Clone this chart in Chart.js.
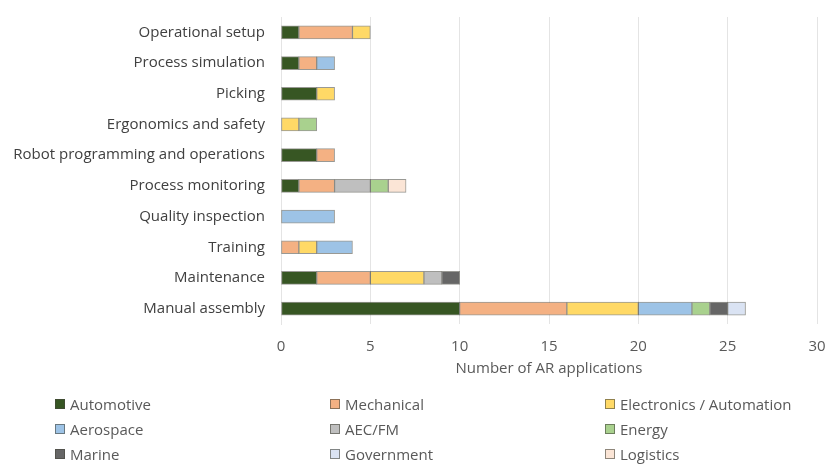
<!DOCTYPE html>
<html>
<head>
<meta charset="utf-8">
<script src="https://cdn.jsdelivr.net/npm/chart.js@4"></script>
<style>
  html, body { margin: 0; padding: 0; background: #fff; }
  #wrap { position: relative; width: 827px; height: 467px; }
  #legend { position: absolute; left: 0; top: 0; width: 827px; height: 467px; pointer-events: none;
            font-family: "Open Sans", sans-serif; font-size: 15px; color: #595959; }
  .item { position: absolute; display: flex; align-items: center; white-space: nowrap; }
  .box { width: 8px; height: 8px; border: 1px solid rgba(70,70,60,0.6); margin-right: 5px; }
</style>
</head>
<body>
<div id="wrap">
  <canvas id="chart" width="827" height="467"></canvas>
  <div id="legend"></div>
</div>
<script>
// categories, top to bottom
const categories = [
  'Operational setup',
  'Process simulation',
  'Picking',
  'Ergonomics and safety',
  'Robot programming and operations',
  'Process monitoring',
  'Quality inspection',
  'Training',
  'Maintenance',
  'Manual assembly'
];

// AR applications per sector
const automotive  = [1, 1, 2, 0, 2, 1, 0, 0, 2, 10];
const mechanical  = [3, 1, 0, 0, 1, 2, 0, 1, 3, 6];
const electronics = [1, 0, 1, 1, 0, 0, 0, 1, 3, 4];
const aerospace   = [0, 1, 0, 0, 0, 0, 3, 2, 0, 3];
const aecfm       = [0, 0, 0, 0, 0, 2, 0, 0, 1, 0];
const energy      = [0, 0, 0, 1, 0, 1, 0, 0, 0, 1];
const marine      = [0, 0, 0, 0, 0, 0, 0, 0, 1, 1];
const government  = [0, 0, 0, 0, 0, 0, 0, 0, 0, 1];
const logistics   = [0, 0, 0, 0, 0, 1, 0, 0, 0, 0];

const xTicks = [0, 5, 10, 15, 20, 25, 30];

const series = [
  { label: 'Automotive', data: automotive, color: '#375623' },
  { label: 'Mechanical', data: mechanical, color: '#F4B183' },
  { label: 'Electronics / Automation', data: electronics, color: '#FFD966' },
  { label: 'Aerospace', data: aerospace, color: '#9DC3E6' },
  { label: 'AEC/FM', data: aecfm, color: '#BFBFBF' },
  { label: 'Energy', data: energy, color: '#A9D18E' },
  { label: 'Marine', data: marine, color: '#666666' },
  { label: 'Government', data: government, color: '#DAE3F3' },
  { label: 'Logistics', data: logistics, color: '#FBE5D6' }
];

const FONT = '"Open Sans", sans-serif';

new Chart(document.getElementById('chart'), {
  type: 'bar',
  data: {
    labels: categories,
    datasets: series.map(s => ({
      label: s.label,
      data: s.data.map(v => v === 0 ? null : v),
      backgroundColor: s.color,
      borderColor: 'rgba(70,70,60,0.55)',
      borderWidth: 1,
      borderSkipped: false,
      barThickness: 13
    }))
  },
  options: {
    indexAxis: 'y',
    responsive: false,
    animation: false,
    layout: { padding: { top: 17, right: 10, bottom: 87, left: 0 } },
    plugins: { legend: { display: false }, tooltip: { enabled: false } },
    scales: {
      x: {
        stacked: true,
        min: 0,
        max: 30,
        afterBuildTicks: axis => { axis.ticks = xTicks.map(v => ({ value: v })); },
        afterFit: axis => { axis.height = 56; },
        // gap below the plot comes from an invisible tick mark, so the
        // tick padding does not push the plot edges inward
        grid: { color: '#e4e4e4', tickLength: 14, tickColor: 'transparent' },
        border: { display: false },
        ticks: { padding: 0, color: '#595959', font: { family: FONT, size: 15 } },
        title: {
          display: true,
          text: 'Number of AR applications',
          color: '#595959',
          font: { family: FONT, size: 15 },
          padding: { top: 0, bottom: 2 }
        }
      },
      y: {
        stacked: true,
        afterFit: axis => { axis.width = 281; },
        grid: { display: false, tickLength: 16 },
        border: { color: '#e4e4e4' },
        ticks: { padding: 0, color: '#404040', font: { family: FONT, size: 15 } }
      }
    }
  }
});

// legend in three columns below the chart
const legendCols = [55, 330, 605];
const legendRows = [404, 429, 454];
const legend = document.getElementById('legend');
series.forEach((s, i) => {
  const item = document.createElement('div');
  item.className = 'item';
  item.style.left = legendCols[i % 3] + 'px';
  item.style.top = (legendRows[Math.floor(i / 3)] - 10) + 'px';
  item.style.height = '20px';
  item.innerHTML = '<span class="box" style="background:' + s.color + '"></span>' + s.label;
  legend.appendChild(item);
});
</script>
</body>
</html>
